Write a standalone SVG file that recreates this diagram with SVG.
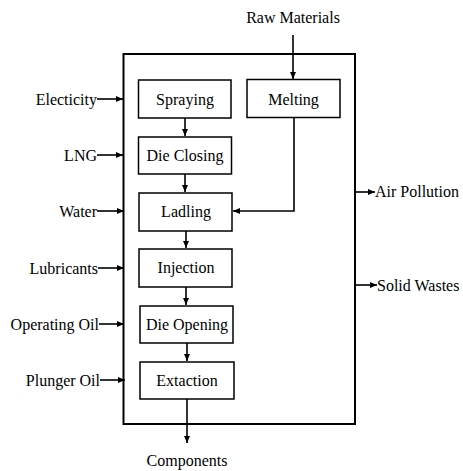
<svg xmlns="http://www.w3.org/2000/svg" width="463" height="471" viewBox="0 0 463 471">
<style>
text{font-family:"Liberation Serif","Times New Roman",serif;font-size:16px;fill:#000}
.box{fill:#fff;stroke:#000;stroke-width:1.5}
.outer{fill:none;stroke:#000;stroke-width:2}
.c{fill:none;stroke:#000;stroke-width:1.6}
.m{text-anchor:middle}
.e{text-anchor:end}
</style>
<defs>
<marker id="ah" markerWidth="7" markerHeight="6" refX="7" refY="3" orient="auto" markerUnits="userSpaceOnUse">
<path d="M0,0 L7,3 L0,6 Z" fill="#000"/>
</marker>
</defs>
<rect class="outer" x="123.5" y="54" width="231.5" height="370"/>
<g id="connectors">
<line class="c" x1="293" y1="35" x2="293" y2="79" marker-end="url(#ah)"/>
<polyline class="c" points="294,118 294,211 233,211" marker-end="url(#ah)"/>
<line class="c" x1="185" y1="118" x2="185" y2="136" marker-end="url(#ah)"/>
<line class="c" x1="185" y1="174" x2="185" y2="192" marker-end="url(#ah)"/>
<line class="c" x1="186" y1="231" x2="186" y2="248" marker-end="url(#ah)"/>
<line class="c" x1="186" y1="287" x2="186" y2="305" marker-end="url(#ah)"/>
<line class="c" x1="187" y1="343" x2="187" y2="361" marker-end="url(#ah)"/>
<line class="c" x1="187" y1="399" x2="187" y2="443" marker-end="url(#ah)"/>
<line class="c" x1="97" y1="99" x2="123" y2="99" marker-end="url(#ah)"/>
<line class="c" x1="97" y1="155" x2="123" y2="155" marker-end="url(#ah)"/>
<line class="c" x1="97" y1="211" x2="124" y2="211" marker-end="url(#ah)"/>
<line class="c" x1="98" y1="268" x2="124" y2="268" marker-end="url(#ah)"/>
<line class="c" x1="99" y1="324" x2="124" y2="324" marker-end="url(#ah)"/>
<line class="c" x1="100" y1="380" x2="125" y2="380" marker-end="url(#ah)"/>
<line class="c" x1="355" y1="192" x2="375" y2="192" marker-end="url(#ah)"/>
<line class="c" x1="355" y1="285" x2="377" y2="285" marker-end="url(#ah)"/>
</g>
<g id="raw-materials"><text class="m" x="293" y="23">Raw Materials</text></g>
<g id="spraying"><rect class="box" x="138.5" y="80" width="92.5" height="38"/><text class="m" x="185" y="105">Spraying</text></g>
<g id="melting"><rect class="box" x="247" y="79.5" width="93" height="38"/><text class="m" x="293.5" y="104.5">Melting</text></g>
<g id="die-closing"><rect class="box" x="138.5" y="137" width="93" height="37"/><text class="m" x="185" y="161">Die Closing</text></g>
<g id="ladling"><rect class="box" x="139" y="193" width="93" height="38"/><text class="m" x="186" y="217">Ladling</text></g>
<g id="injection"><rect class="box" x="139" y="249" width="93" height="38"/><text class="m" x="186" y="273">Injection</text></g>
<g id="die-opening"><rect class="box" x="140" y="306" width="93" height="37"/><text class="m" x="187" y="330">Die Opening</text></g>
<g id="extaction"><rect class="box" x="140" y="362" width="94" height="37"/><text class="m" x="187" y="386">Extaction</text></g>
<g id="electicity"><text class="e" x="97" y="105">Electicity</text></g>
<g id="lng"><text class="e" x="97" y="161">LNG</text></g>
<g id="water"><text class="e" x="97" y="217">Water</text></g>
<g id="lubricants"><text class="e" x="98" y="274">Lubricants</text></g>
<g id="operating-oil"><text class="e" x="99" y="330">Operating Oil</text></g>
<g id="plunger-oil"><text class="e" x="100" y="386">Plunger Oil</text></g>
<g id="air-pollution"><text x="375" y="197">Air Pollution</text></g>
<g id="solid-wastes"><text x="377" y="291">Solid Wastes</text></g>
<g id="components"><text class="m" x="187" y="466">Components</text></g>
</svg>
